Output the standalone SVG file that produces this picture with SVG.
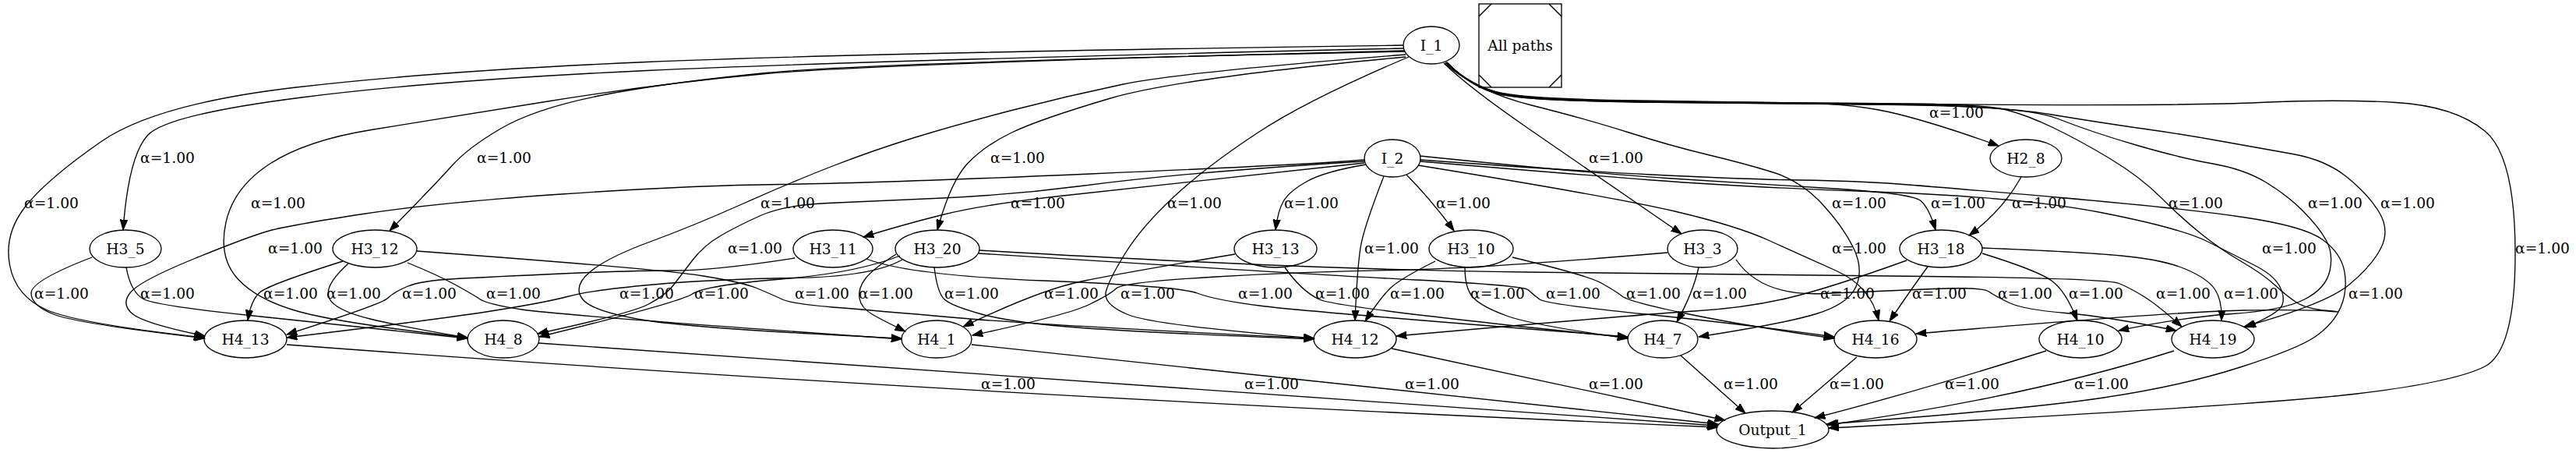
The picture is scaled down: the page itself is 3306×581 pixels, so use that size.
<svg xmlns="http://www.w3.org/2000/svg" width="3306" height="581" viewBox="0 0 3306 581">
<style>
.e path{fill:none;stroke:#000;stroke-width:1.33;marker-end:url(#ah)}
.n ellipse,.n rect,.n line{fill:none;stroke:#000;stroke-width:1.33}
text{font-family:"DejaVu Serif","Liberation Serif",serif;font-size:18.67px;text-anchor:middle;fill:#000}
</style>
<defs>
<marker id="ah" markerUnits="userSpaceOnUse" markerWidth="14" markerHeight="10" refX="13.3" refY="5" orient="auto" viewBox="0 0 14 10">
<path d="M0,0.3 L13.3,5 L0,9.7 z" fill="#000" stroke="#000" stroke-width="1"/>
</marker>
</defs>
<rect width="3306" height="581" fill="#fff"/>
<g id="connectors">
<g class="e" id="e-I_1-H4_13"><path d="M1801,58 Q1100,68 830,79.5 Q560,91 380,112 Q200,133 130,181.5 Q60,230 32.5,265 Q5,300 12.5,340 Q20,380 60,397.5 Q100,415 262,433"/><text x="66" y="266.5">α=1.00</text></g>
<g class="e" id="e-I_1-H3_5"><path d="M1802,62 Q1100,78 830,90.5 Q560,103 387,125 Q214,147 189.5,173.5 Q165,200 158,295"/><text x="215" y="208.5">α=1.00</text></g>
<g class="e" id="e-I_1-H4_8"><path d="M1803,65 Q1120,82 983,94.5 Q846,107 703,130 Q560,153 476.5,166.5 Q393,180 346.5,210 Q300,240 290,285 Q280,330 305,357.5 Q330,385 385,400 Q440,415 600,433"/><text x="357" y="266.5">α=1.00</text></g>
<g class="e" id="e-I_1-H3_12"><path d="M1803,66 Q1120,80 983,93.5 Q846,107 765.5,123.5 Q685,140 642.5,165 Q600,190 580,212.5 Q560,235 500,296"/><text x="647" y="208.5">α=1.00</text></g>
<g class="e" id="e-I_1-H4_1"><path d="M1804,70 Q1513,93 1441.5,108 Q1370,123 1298.5,141.5 Q1227,160 1173.5,176.5 Q1120,193 1068.5,213 Q1017,233 953,261.5 Q889,290 834.5,310 Q780,330 757.5,348.5 Q735,367 747.5,383.5 Q760,400 830,411 Q900,422 1157,434"/><text x="1011" y="266.5">α=1.00</text></g>
<g class="e" id="e-I_1-H3_20"><path d="M1804,73 Q1513,100 1423.5,126.5 Q1334,153 1298.5,170 Q1263,187 1241.5,210 Q1220,233 1203,295"/><text x="1306" y="208.5">α=1.00</text></g>
<g class="e" id="e-I_1-H4_12"><path d="M1808,73 Q1680,127 1614.5,170 Q1549,213 1507.5,251.5 Q1466,290 1445,323.5 Q1424,357 1419.5,373.5 Q1415,390 1447.5,403.5 Q1480,417 1687,434"/><text x="1533" y="266.5">α=1.00</text></g>
<g class="e" id="e-I_1-H2_8"><path d="M1855,80 Q1890,112 1928,119.5 Q1966,127 2103,129 Q2240,131 2311.5,132 Q2383,133 2436.5,146.5 Q2490,160 2565,187"/><text x="2511" y="150.5">α=1.00</text></g>
<g class="e" id="e-I_1-Output_1"><path d="M1856,80 Q1890,113 1928,120.5 Q1966,128 2103,130 Q2240,132 2520,134 Q2800,136 2900,131.5 Q3000,127 3075,131.5 Q3150,136 3189,168 Q3228,200 3228,325 Q3228,450 3189,470 Q3150,490 3025,505 Q2900,520 2347,549"/><text x="3263" y="324.5">α=1.00</text></g>
<g class="e" id="e-I_1-H3_3"><path d="M1853,81 Q1885,112 1961,164.5 Q2037,217 2158,300"/><text x="2074" y="208.5">α=1.00</text></g>
<g class="e" id="e-I_1-H4_7"><path d="M1854,81 Q1894,117 1965.5,135 Q2037,153 2090.5,170 Q2144,187 2192,198.5 Q2240,210 2275.5,221 Q2311,232 2338,261 Q2365,290 2378.5,317.5 Q2392,345 2382,367.5 Q2372,390 2331,402.5 Q2290,415 2180,432"/><text x="2386" y="266.5">α=1.00</text></g>
<g class="e" id="e-I_1-H4_19"><path d="M1857,80 Q1890,114 1928,121.5 Q1966,129 2103,131 Q2240,133 2400,134 Q2560,135 2630,146.5 Q2700,158 2750,165 Q2800,172 2850,181 Q2900,190 2942.5,197.5 Q2985,205 3012.5,227.5 Q3040,250 3053.5,272.5 Q3067,295 3056,317.5 Q3045,340 3015,365 Q2985,390 2880,419"/><text x="3090" y="266.5">α=1.00</text></g>
<g class="e" id="e-I_1-H4_10"><path d="M1857,80 Q1890,114 1928,121.5 Q1966,129 2103,131 Q2240,133 2418.5,134 Q2597,135 2641.5,152.5 Q2686,170 2743,186.5 Q2800,203 2840,210 Q2880,217 2907.5,233.5 Q2935,250 2955,270 Q2975,290 2985,307.5 Q2995,325 2990,347.5 Q2985,370 2957.5,384 Q2930,398 2865,402.5 Q2800,407 2719,424"/><text x="2997" y="266.5">α=1.00</text></g>
<g class="e" id="e-I_1-H4_16"><path d="M1856,80 Q1890,112 1928,120 Q1966,128 2103,130 Q2240,132 2391.5,132.5 Q2543,133 2571.5,140 Q2600,147 2634.5,163.5 Q2669,180 2708,203.5 Q2747,227 2773.5,253.5 Q2800,280 2825,300 Q2850,320 2877.5,336 Q2905,352 2920,366 Q2935,380 2947.5,388 Q2960,396 2987.5,398.5 Q3015,401 2987.5,399 Q2960,397 2880,398 Q2800,399 2459,428"/><text x="2818" y="266.5">α=1.00</text></g>
<g class="e" id="e-I_2-H4_13"><path d="M1751,205 Q1680,211 1400,223 Q1120,235 1000.5,236.5 Q881,238 720.5,249 Q560,260 465.5,274.5 Q371,289 345.5,296 Q320,303 250,331.5 Q180,360 167.5,375 Q155,390 170,402.5 Q185,415 263,431"/><text x="379" y="324.5">α=1.00</text></g>
<g class="e" id="e-I_2-H4_8"><path d="M1751,207 Q1680,211 1578.5,219 Q1477,227 1388,238.5 Q1299,250 1209.5,254 Q1120,258 1063,260.5 Q1006,263 976,276.5 Q946,290 924.5,302.5 Q903,315 888.5,334 Q874,353 864.5,365.5 Q855,378 832.5,390 Q810,402 690,428"/><text x="969" y="324.5">α=1.00</text></g>
<g class="e" id="e-I_2-H3_11"><path d="M1751,209 Q1466,240 1364.5,251 Q1263,262 1207.5,276 Q1152,290 1108,304"/><text x="1332" y="266.5">α=1.00</text></g>
<g class="e" id="e-I_2-H3_13"><path d="M1753,211 Q1700,220 1677.5,232.5 Q1655,245 1647.5,257.5 Q1640,270 1637,295"/><text x="1683" y="266.5">α=1.00</text></g>
<g class="e" id="e-I_2-H4_12"><path d="M1776,226 Q1751,290 1746.5,315 Q1742,340 1739,411"/><text x="1786" y="324.5">α=1.00</text></g>
<g class="e" id="e-I_2-H3_10"><path d="M1805,224 Q1840,260 1866,296"/><text x="1878" y="266.5">α=1.00</text></g>
<g class="e" id="e-I_2-H3_18"><path d="M1822,200 Q2037,222 2138.5,228.5 Q2240,235 2347,241.5 Q2454,248 2465,257.5 Q2476,267 2484,295"/><text x="2513" y="266.5">α=1.00</text></g>
<g class="e" id="e-I_2-H4_16"><path d="M1820,212 Q2073,253 2151.5,271.5 Q2230,290 2270.5,308.5 Q2311,327 2356,347 Q2401,367 2411,411"/><text x="2386" y="324.5">α=1.00</text></g>
<g class="e" id="e-I_2-Output_1"><path d="M1823,205 Q2000,218 2120,224 Q2240,230 2311.5,231 Q2383,232 2436.5,236 Q2490,240 2645,253.5 Q2800,267 2878.5,278.5 Q2957,290 2981,307.5 Q3005,325 3009,349 Q3013,373 3004,394 Q2995,415 2972.5,431 Q2950,447 2875,471 Q2800,495 2700,510 Q2600,525 2344,544"/><text x="3049" y="382.5">α=1.00</text></g>
<g class="e" id="e-I_2-H4_19"><path d="M1823,207 Q2000,222 2120,231 Q2240,240 2418.5,246.5 Q2597,253 2698.5,273 Q2800,293 2833.5,310 Q2867,327 2892,339.5 Q2917,352 2925,366 Q2933,380 2929,391 Q2925,402 2882,420"/><text x="2938" y="324.5">α=1.00</text></g>
<g class="e" id="e-H2_8-H3_18"><path d="M2594,227 Q2570,270 2527,302"/><text x="2617" y="266.5">α=1.00</text></g>
<g class="e" id="e-H3_5-H4_13"><path d="M118,330 Q40,360 40,376 Q40,392 70,403.5 Q100,415 263,434"/><text x="79" y="382.5">α=1.00</text></g>
<g class="e" id="e-H3_5-H4_8"><path d="M162,343 Q168,375 184,383.5 Q200,392 325,405 Q450,418 600,434"/><text x="215" y="382.5">α=1.00</text></g>
<g class="e" id="e-H3_12-H4_13"><path d="M440,335 Q345,365 333.5,375 Q322,385 318,411"/><text x="373" y="382.5">α=1.00</text></g>
<g class="e" id="e-H3_12-H4_8"><path d="M447,338 Q415,367 422.5,382.5 Q430,398 475,409 Q520,420 600,433"/><text x="454" y="382.5">α=1.00</text></g>
<g class="e" id="e-H3_11-H4_13"><path d="M1020,331 Q917,347 863.5,347 Q810,347 720.5,351 Q631,355 585.5,357.5 Q540,360 522.5,367.5 Q505,375 497.5,382.5 Q490,390 368,429"/><text x="551" y="382.5">α=1.00</text></g>
<g class="e" id="e-H3_12-H4_1"><path d="M523,337 Q560,352 583,364.5 Q606,377 615.5,383.5 Q625,390 669.5,397 Q714,404 1157,435"/><text x="659" y="382.5">α=1.00</text></g>
<g class="e" id="e-H3_12-H4_12"><path d="M535,322 Q846,345 899.5,353.5 Q953,362 971,369.5 Q989,377 1003,383.5 Q1017,390 1068.5,394 Q1120,398 1227,407.5 Q1334,417 1686,434"/><text x="1055" y="382.5">α=1.00</text></g>
<g class="e" id="e-H3_20-H4_13"><path d="M1158,333 Q1120,355 1018.5,356.5 Q917,358 838.5,365 Q760,372 730,380 Q700,388 630,399 Q560,410 368,433"/><text x="830" y="382.5">α=1.00</text></g>
<g class="e" id="e-H3_20-H4_8"><path d="M1155,328 Q1100,350 1002.5,358 Q905,366 888.5,377 Q872,388 692,432"/><text x="926" y="382.5">α=1.00</text></g>
<g class="e" id="e-H3_20-H4_1"><path d="M1150,326 Q1120,345 1110.5,357.5 Q1101,370 1103,382.5 Q1105,395 1120,403.5 Q1135,412 1162,425"/><text x="1137" y="382.5">α=1.00</text></g>
<g class="e" id="e-H3_20-H4_12"><path d="M1199,343 Q1203,375 1211.5,383.5 Q1220,392 1260,403 Q1300,414 1388.5,420.5 Q1477,427 1686,435"/><text x="1247" y="382.5">α=1.00</text></g>
<g class="e" id="e-H3_13-H4_1"><path d="M1585,326 Q1441,350 1387.5,361 Q1334,372 1236,419"/><text x="1375" y="382.5">α=1.00</text></g>
<g class="e" id="e-H3_3-H4_1"><path d="M2140,324 Q1894,345 1787,346.5 Q1680,348 1560.5,355 Q1441,362 1432.5,370 Q1424,378 1397,391 Q1370,404 1248,430"/><text x="1473" y="382.5">α=1.00</text></g>
<g class="e" id="e-H3_11-H4_7"><path d="M1112,332 Q1166,353 1339.5,360 Q1513,367 1536.5,376 Q1560,385 1620,392.5 Q1680,400 2089,432"/><text x="1624" y="382.5">α=1.00</text></g>
<g class="e" id="e-H3_13-H4_7"><path d="M1649,343 Q1670,373 1693,384 Q1716,395 2089,433"/><text x="1723" y="382.5">α=1.00</text></g>
<g class="e" id="e-H3_10-H4_12"><path d="M1842,335 Q1798,357 1785.5,368.5 Q1773,380 1752,412"/><text x="1819" y="382.5">α=1.00</text></g>
<g class="e" id="e-H3_10-H4_7"><path d="M1880,343 Q1880,370 1890.5,381.5 Q1901,393 1933.5,405 Q1966,417 2089,434"/><text x="1922" y="382.5">α=1.00</text></g>
<g class="e" id="e-H3_20-H4_16"><path d="M1256,325 Q1680,352 1817.5,359 Q1955,366 1961.5,372 Q1968,378 1976,384 Q1984,390 2112,403 Q2240,416 2354,432"/><text x="2019" y="382.5">α=1.00</text></g>
<g class="e" id="e-H3_10-H4_16"><path d="M1941,330 Q2037,353 2055,363 Q2073,373 2082,380 Q2091,387 2165.5,402.5 Q2240,418 2354,434"/><text x="2122" y="382.5">α=1.00</text></g>
<g class="e" id="e-H3_3-H4_7"><path d="M2180,343 Q2173,375 2152,413"/><text x="2207" y="382.5">α=1.00</text></g>
<g class="e" id="e-H3_18-H4_12"><path d="M2447,334 Q2347,370 2293.5,382.5 Q2240,395 2174.5,399 Q2109,403 1792,431"/><text x="2371" y="382.5">α=1.00</text></g>
<g class="e" id="e-H3_18-H4_16"><path d="M2474,342 Q2450,375 2425,412"/><text x="2489" y="382.5">α=1.00</text></g>
<g class="e" id="e-H3_3-H4_19"><path d="M2228,333 Q2260,380 2339.5,376.5 Q2419,373 2481.5,370.5 Q2544,368 2552.5,374 Q2561,380 2579,388.5 Q2597,397 2650.5,401.5 Q2704,406 2793,424"/><text x="2599" y="382.5">α=1.00</text></g>
<g class="e" id="e-H3_18-H4_10"><path d="M2544,325 Q2615,347 2633,360 Q2651,373 2666,411"/><text x="2690" y="382.5">α=1.00</text></g>
<g class="e" id="e-H3_20-H4_19"><path d="M1257,321 Q1680,346 1960,349 Q2240,352 2472,354.5 Q2704,357 2719.5,363.5 Q2735,370 2752.5,381 Q2770,392 2800,419"/><text x="2802" y="382.5">α=1.00</text></g>
<g class="e" id="e-H3_18-H4_19"><path d="M2544,318 Q2669,323 2722.5,328 Q2776,333 2804.5,345 Q2833,357 2842.5,371 Q2852,385 2851,411"/><text x="2889" y="382.5">α=1.00</text></g>
<g class="e" id="e-H4_13-Output_1"><path d="M368,442 Q1200,505 2204,548"/><text x="1294" y="498.5">α=1.00</text></g>
<g class="e" id="e-H4_8-Output_1"><path d="M691,440 Q1500,500 2204,546"/><text x="1632" y="498.5">α=1.00</text></g>
<g class="e" id="e-H4_1-Output_1"><path d="M1247,442 L2205,544"/><text x="1838" y="498.5">α=1.00</text></g>
<g class="e" id="e-H4_12-Output_1"><path d="M1786,447 L2214,539"/><text x="2074" y="498.5">α=1.00</text></g>
<g class="e" id="e-H4_7-Output_1"><path d="M2157,456 L2240,530"/><text x="2247" y="498.5">α=1.00</text></g>
<g class="e" id="e-H4_16-Output_1"><path d="M2383,458 L2300,529"/><text x="2383" y="498.5">α=1.00</text></g>
<g class="e" id="e-H4_10-Output_1"><path d="M2626,450 Q2450,505 2329,536"/><text x="2531" y="498.5">α=1.00</text></g>
<g class="e" id="e-H4_19-Output_1"><path d="M2790,450 Q2600,510 2346,545"/><text x="2697" y="498.5">α=1.00</text></g>
</g>
<g id="nodes">
<g class="n" id="I_1"><ellipse cx="1837" cy="58" rx="36" ry="24"/><text x="1837" y="64.5">I_1</text></g>
<g class="n" id="All_paths"><rect x="1898" y="5" width="106" height="107"/><line x1="1898" y1="21" x2="1914" y2="5"/><line x1="1988" y1="5" x2="2004" y2="21"/><line x1="1898" y1="96" x2="1914" y2="112"/><line x1="1988" y1="112" x2="2004" y2="96"/><text x="1951" y="64.5">All paths</text></g>
<g class="n" id="I_2"><ellipse cx="1787" cy="203" rx="36" ry="24"/><text x="1787" y="209.5">I_2</text></g>
<g class="n" id="H2_8"><ellipse cx="2600" cy="203" rx="46" ry="24"/><text x="2600" y="209.5">H2_8</text></g>
<g class="n" id="H3_5"><ellipse cx="161" cy="319" rx="46" ry="24"/><text x="161" y="325.5">H3_5</text></g>
<g class="n" id="H3_12"><ellipse cx="481" cy="319" rx="54" ry="24"/><text x="481" y="325.5">H3_12</text></g>
<g class="n" id="H3_11"><ellipse cx="1069" cy="319" rx="51" ry="24"/><text x="1069" y="325.5">H3_11</text></g>
<g class="n" id="H3_20"><ellipse cx="1203" cy="319" rx="54" ry="24"/><text x="1203" y="325.5">H3_20</text></g>
<g class="n" id="H3_13"><ellipse cx="1637" cy="319" rx="53" ry="24"/><text x="1637" y="325.5">H3_13</text></g>
<g class="n" id="H3_10"><ellipse cx="1888" cy="319" rx="54" ry="24"/><text x="1888" y="325.5">H3_10</text></g>
<g class="n" id="H3_3"><ellipse cx="2185" cy="319" rx="45" ry="24"/><text x="2185" y="325.5">H3_3</text></g>
<g class="n" id="H3_18"><ellipse cx="2491" cy="319" rx="53" ry="24"/><text x="2491" y="325.5">H3_18</text></g>
<g class="n" id="H4_13"><ellipse cx="315" cy="435" rx="53" ry="24"/><text x="315" y="441.5">H4_13</text></g>
<g class="n" id="H4_8"><ellipse cx="646" cy="435" rx="46" ry="24"/><text x="646" y="441.5">H4_8</text></g>
<g class="n" id="H4_1"><ellipse cx="1202" cy="435" rx="45" ry="24"/><text x="1202" y="441.5">H4_1</text></g>
<g class="n" id="H4_12"><ellipse cx="1739" cy="435" rx="53" ry="24"/><text x="1739" y="441.5">H4_12</text></g>
<g class="n" id="H4_7"><ellipse cx="2134" cy="435" rx="45" ry="24"/><text x="2134" y="441.5">H4_7</text></g>
<g class="n" id="H4_16"><ellipse cx="2407" cy="435" rx="53" ry="24"/><text x="2407" y="441.5">H4_16</text></g>
<g class="n" id="H4_10"><ellipse cx="2670" cy="435" rx="53" ry="24"/><text x="2670" y="441.5">H4_10</text></g>
<g class="n" id="H4_19"><ellipse cx="2840" cy="435" rx="53" ry="24"/><text x="2840" y="441.5">H4_19</text></g>
<g class="n" id="Output_1"><ellipse cx="2275" cy="551" rx="72" ry="24"/><text x="2275" y="557.5">Output_1</text></g>
</g>
</svg>
